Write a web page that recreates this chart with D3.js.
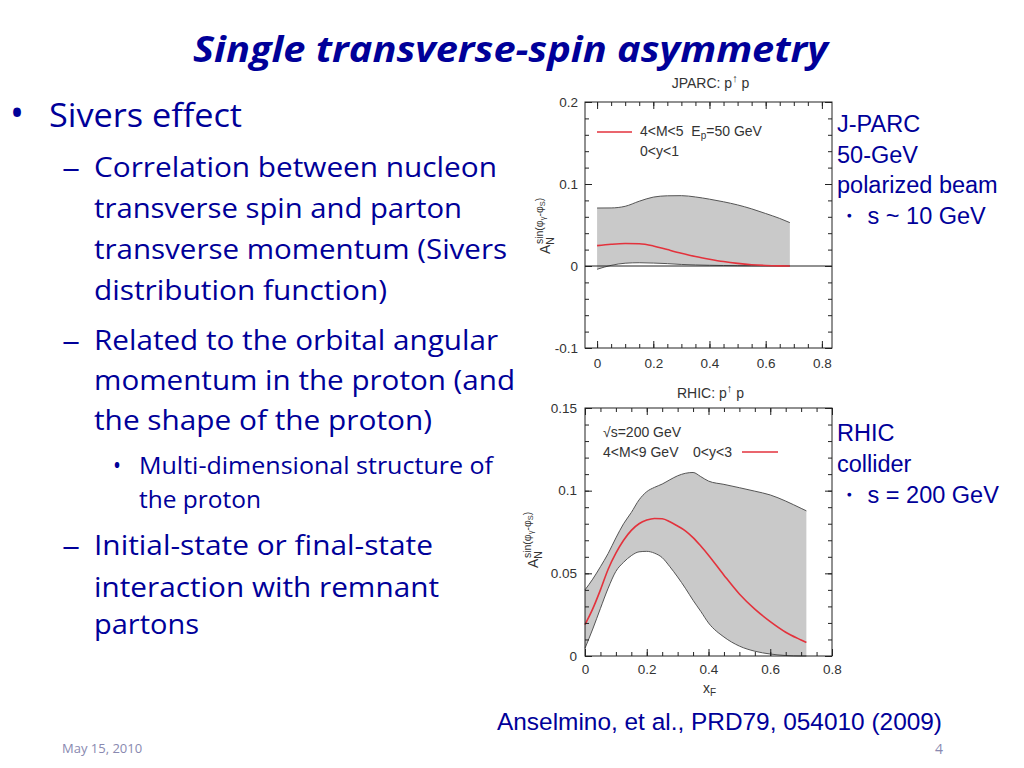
<!DOCTYPE html>
<html>
<meta charset="utf-8">
<style>
  body { margin: 0; background: #fff; }
  svg text { font-family: "Liberation Sans", Arial, sans-serif; }
  .slide { font-family: "Open Sans", sans-serif; fill: #000099; }
  .tick text { font-family: "Liberation Sans", Arial, sans-serif; font-size: 13.5px; fill: #333; }
  .tick line { stroke: #222; }
  .band { fill: #c9c9c9; }
  .edge { fill: none; stroke: #555; stroke-width: 1; }
  .curve { fill: none; stroke: #e3323c; stroke-width: 1.6; }
  .frame { fill: none; stroke: #222; stroke-width: 1; }
  .lab { fill: #333; }
</style>
<body>
<script src="https://d3js.org/d3.v7.min.js"></script>
<script>
  // JPARC panel: band (upper/lower) and central curve vs x_F
  let jparcX       = [0, 0.05, 0.1, 0.15, 0.2, 0.25, 0.3, 0.35, 0.4, 0.45, 0.5, 0.55, 0.6, 0.65, 0.686];
  let jparcUpper   = [0.0707, 0.0708, 0.0728, 0.079, 0.084, 0.0856, 0.0858, 0.0842, 0.0815, 0.0783, 0.0745, 0.0697, 0.064, 0.058, 0.0529];
  let jparcCentral = [0.0248, 0.0265, 0.0274, 0.0271, 0.0245, 0.0200, 0.0156, 0.0116, 0.0083, 0.0054, 0.0032, 0.0016, 0.0007, 0.0002, 0];
  let jparcLower   = [-0.004, 0.0008, 0.0034, 0.004, 0.0036, 0.0029, 0.0019, 0.0013, 0.0009, 0.0006, 0.0004, 0.0003, 0.0002, 0.0001, 0];

  // RHIC panel
  let rhicX       = [0, 0.025, 0.05, 0.075, 0.1, 0.125, 0.15, 0.175, 0.2, 0.225, 0.25, 0.275, 0.3, 0.325, 0.35, 0.375, 0.4, 0.45, 0.5, 0.55, 0.6, 0.65, 0.7, 0.717];
  let rhicUpper   = [0.040, 0.0465, 0.054, 0.062, 0.0714, 0.080, 0.0868, 0.0944, 0.0994, 0.102, 0.104, 0.1066, 0.109, 0.1105, 0.111, 0.1085, 0.1058, 0.1038, 0.1018, 0.0997, 0.0974, 0.0937, 0.0893, 0.0878];
  let rhicCentral = [0.019, 0.0285, 0.040, 0.0525, 0.0622, 0.070, 0.076, 0.080, 0.0822, 0.0832, 0.0830, 0.0812, 0.0786, 0.0757, 0.0716, 0.0665, 0.061, 0.0489, 0.0375, 0.0283, 0.0208, 0.0144, 0.0097, 0.0082];
  let rhicLower   = [0.0047, 0.0163, 0.0288, 0.041, 0.0512, 0.0567, 0.0607, 0.063, 0.0633, 0.0622, 0.0595, 0.054, 0.0478, 0.041, 0.0337, 0.027, 0.020, 0.0115, 0.006, 0.0029, 0.0012, 0.0003, 0, 0];

  // ticks
  let xTicks = [0, 0.2, 0.4, 0.6, 0.8];
  let jparcYTicks = [-0.1, 0, 0.1, 0.2];
  let rhicYTicks = [0, 0.05, 0.1, 0.15];

  let width = 1024, height = 768;

  let svg = d3.select("body").append("svg")
    .attr("width", width)
    .attr("height", height);

  svg.append("rect").attr("width", width).attr("height", height).attr("fill", "#fff");

  function fmt(d) { return String(+d.toFixed(3)); }

  function drawPanel(p) {
    let g = svg.append("g");
    let x = p.x, y = p.y;
    let pts = p.xs.map((v, i) => ({ x: v, lo: p.lower[i], hi: p.upper[i], c: p.central[i] }));

    g.append("path").datum(pts).attr("class", "band")
      .attr("d", d3.area().curve(d3.curveMonotoneX).x(d => x(d.x)).y0(d => y(d.lo)).y1(d => y(d.hi)));
    g.append("path").datum(pts).attr("class", "edge")
      .attr("d", d3.line().curve(d3.curveMonotoneX).x(d => x(d.x)).y(d => y(d.hi)));
    g.append("path").datum(pts).attr("class", "edge")
      .attr("d", d3.line().curve(d3.curveMonotoneX).x(d => x(d.x)).y(d => y(d.lo)));

    let [x0, x1] = x.range(), [y0, y1] = y.range();
    if (p.zeroLine) {
      g.append("line").attr("x1", x0).attr("x2", x1).attr("y1", y(0)).attr("y2", y(0))
        .attr("stroke", "#222").attr("stroke-width", 1);
    }
    g.append("path").datum(pts).attr("class", "curve")
      .attr("d", d3.line().curve(d3.curveMonotoneX).x(d => x(d.x)).y(d => y(d.c)));

    // ticks on all four sides, pointing inward
    let yMinor = p.yMinor, xMinor = d3.range(0, 0.8001, 0.05);
    g.append("g").attr("transform", `translate(0,${y0})`)
      .call(d3.axisBottom(x).tickValues(xTicks).tickSize(-7).tickPadding(p.xPad).tickFormat(fmt));
    g.append("g").attr("transform", `translate(0,${y0})`)
      .call(d3.axisBottom(x).tickValues(xMinor).tickSize(-4).tickFormat(""));
    g.append("g").attr("transform", `translate(0,${y1})`)
      .call(d3.axisTop(x).tickValues(xTicks).tickSize(-7).tickFormat(""));
    g.append("g").attr("transform", `translate(0,${y1})`)
      .call(d3.axisTop(x).tickValues(xMinor).tickSize(-4).tickFormat(""));
    g.append("g").attr("transform", `translate(${x0},0)`)
      .call(d3.axisLeft(y).tickValues(p.yTicks).tickSize(-7).tickPadding(p.yPad).tickFormat(fmt));
    g.append("g").attr("transform", `translate(${x0},0)`)
      .call(d3.axisLeft(y).tickValues(yMinor).tickSize(-4).tickFormat(""));
    g.append("g").attr("transform", `translate(${x1},0)`)
      .call(d3.axisRight(y).tickValues(p.yTicks).tickSize(-7).tickFormat(""));
    g.append("g").attr("transform", `translate(${x1},0)`)
      .call(d3.axisRight(y).tickValues(yMinor).tickSize(-4).tickFormat(""));
    g.selectAll(".domain").remove();

    g.append("rect").attr("class", "frame")
      .attr("x", x0).attr("y", y1).attr("width", x1 - x0).attr("height", y0 - y1);

    // y-axis label  A_N^{sin(phi_gamma - phi_S)}
    let t = g.append("text").attr("class", "lab").attr("font-size", 14)
      .attr("transform", `translate(${p.labX},${p.labY}) rotate(-90)`);
    t.append("tspan").text("A");
    t.append("tspan").attr("font-size", 10.5).attr("dy", 3.5).text("N");
    t.append("tspan").attr("font-size", 10.5).attr("dx", -7).attr("dy", -11).text("sin(φ");
    t.append("tspan").attr("font-size", 7.5).attr("dy", 2).text("γ");
    t.append("tspan").attr("font-size", 10.5).attr("dy", -2).text("-φ");
    t.append("tspan").attr("font-size", 7.5).attr("dy", 2).text("S");
    t.append("tspan").attr("font-size", 10.5).attr("dy", -2).text(")");

    // panel title
    let tt = g.append("text").attr("class", "lab").attr("font-size", 14)
      .attr("text-anchor", "middle").attr("x", (x0 + x1) / 2 + 2).attr("y", p.titleY);
    tt.append("tspan").text(p.title + ": p");
    tt.append("tspan").attr("font-size", 11).attr("dy", -6).text("↑");
    tt.append("tspan").attr("dy", 6).text("\u00a0p");
    return g;
  }

  // JPARC frame spans x_F -0.043 .. 0.836
  let xJ = d3.scaleLinear().domain([-0.043, 0.836]).range([585, 832]);
  let yJ = d3.scaleLinear().domain([-0.1, 0.2]).range([348, 102]);
  let gJ = drawPanel({
    x: xJ, y: yJ, xs: jparcX, upper: jparcUpper, lower: jparcLower, central: jparcCentral,
    yTicks: jparcYTicks, yMinor: d3.range(-0.1, 0.2001, 0.02), zeroLine: true,
    xPad: 10, yPad: 7, labX: 550, labY: 254, title: "JPARC", titleY: 88
  });

  let xR = d3.scaleLinear().domain([0, 0.8]).range([585, 832]);
  let yR = d3.scaleLinear().domain([0, 0.15]).range([656, 408]);
  let gR = drawPanel({
    x: xR, y: yR, xs: rhicX, upper: rhicUpper, lower: rhicLower, central: rhicCentral,
    yTicks: rhicYTicks, yMinor: d3.range(0, 0.1501, 0.01), zeroLine: false,
    xPad: 8, yPad: 8, labX: 538, labY: 568, title: "RHIC", titleY: 398
  });

  // legends
  gJ.append("line").attr("x1", 597).attr("x2", 632).attr("y1", 132).attr("y2", 132)
    .attr("stroke", "#e3323c").attr("stroke-width", 1.6);
  let l1 = gJ.append("text").attr("class", "lab").attr("font-size", 14).attr("x", 640).attr("y", 136);
  l1.append("tspan").text("4<M<5\u00a0\u00a0E");
  l1.append("tspan").attr("font-size", 10).attr("dy", 3).text("p");
  l1.append("tspan").attr("dy", -3).text("=50 GeV");
  gJ.append("text").attr("class", "lab").attr("font-size", 14).attr("x", 640).attr("y", 156).text("0<y<1");

  gR.append("text").attr("class", "lab").attr("font-size", 14).attr("x", 603).attr("y", 437).text("√s=200 GeV");
  gR.append("text").attr("class", "lab").attr("font-size", 14).attr("x", 603).attr("y", 457).text("4<M<9 GeV");
  gR.append("text").attr("class", "lab").attr("font-size", 14).attr("x", 693).attr("y", 457).text("0<y<3");
  gR.append("line").attr("x1", 742).attr("x2", 778).attr("y1", 452).attr("y2", 452)
    .attr("stroke", "#e3323c").attr("stroke-width", 1.6);
  let xf = gR.append("text").attr("class", "lab").attr("font-size", 14).attr("x", 703).attr("y", 693);
  xf.append("tspan").text("x");
  xf.append("tspan").attr("font-size", 10).attr("dy", 3).text("F");

  // slide text
  svg.append("text").attr("class", "slide").attr("x", 193).attr("y", 62)
    .attr("font-size", 36).attr("font-weight", "bold").attr("font-style", "italic")
    .attr("textLength", 635).attr("lengthAdjust", "spacingAndGlyphs")
    .text("Single transverse-spin asymmetry");

  let bulletLines = [
    { t: "Sivers effect", lvl: 1, y: 127, w: 193 },
    { t: "Correlation between nucleon", lvl: 2, y: 177, w: 403, mark: true },
    { t: "transverse spin and parton", lvl: 2, y: 218, w: 368 },
    { t: "transverse momentum (Sivers", lvl: 2, y: 259, w: 413 },
    { t: "distribution function)", lvl: 2, y: 300, w: 293 },
    { t: "Related to the orbital angular", lvl: 2, y: 350, w: 404, mark: true },
    { t: "momentum in the proton (and", lvl: 2, y: 390, w: 421 },
    { t: "the shape of the proton)", lvl: 2, y: 430, w: 338 },
    { t: "Multi-dimensional structure of", lvl: 3, y: 474, w: 354, mark: true },
    { t: "the proton", lvl: 3, y: 508, w: 122 },
    { t: "Initial-state or final-state", lvl: 2, y: 555, w: 339, mark: true },
    { t: "interaction with remnant", lvl: 2, y: 597, w: 345 },
    { t: "partons", lvl: 2, y: 634, w: 105 }
  ];
  let lvlX = { 1: 49, 2: 94, 3: 139 }, lvlSize = { 1: 33, 2: 28, 3: 23 };
  let lvlMark = { 1: ["•", 10, 14, 40], 2: ["–", 62, 18, 28], 3: ["•", 113, 8, 26] };

  bulletLines.forEach(d => {
    svg.append("text").attr("class", "slide").attr("x", lvlX[d.lvl]).attr("y", d.y)
      .attr("font-size", lvlSize[d.lvl])
      .attr("textLength", d.w).attr("lengthAdjust", "spacingAndGlyphs")
      .text(d.t);
    if (d.lvl === 1 || d.mark) {
      let m = lvlMark[d.lvl];
      svg.append("text").attr("class", "slide").attr("x", m[1]).attr("y", d.y)
        .attr("font-size", m[3]).attr("textLength", m[2]).attr("lengthAdjust", "spacingAndGlyphs")
        .text(m[0]);
    }
  });

  // right-hand notes
  let arial = "Liberation Sans, Arial, sans-serif";
  [["J-PARC", 132], ["50-GeV", 163], ["polarized beam", 193], ["・ s ~ 10 GeV", 224],
   ["RHIC", 441], ["collider", 472], ["・ s = 200 GeV", 503]].forEach(d => {
    svg.append("text").attr("x", 837).attr("y", d[1]).attr("font-size", 23.5)
      .style("font-family", arial).attr("fill", "#000099").text(d[0]);
  });

  svg.append("text").attr("x", 497).attr("y", 730).attr("font-size", 24.5)
    .style("font-family", arial).attr("fill", "#000099")
    .attr("textLength", 445).attr("lengthAdjust", "spacingAndGlyphs")
    .text("Anselmino, et al., PRD79, 054010 (2009)");

  svg.append("text").attr("class", "slide").attr("x", 62).attr("y", 753).attr("font-size", 13)
    .style("fill", "#8989b0").text("May 15, 2010");
  svg.append("text").attr("class", "slide").attr("x", 935).attr("y", 754).attr("font-size", 14)
    .style("fill", "#8989b0").text("4");
</script>
</body>
</html>
